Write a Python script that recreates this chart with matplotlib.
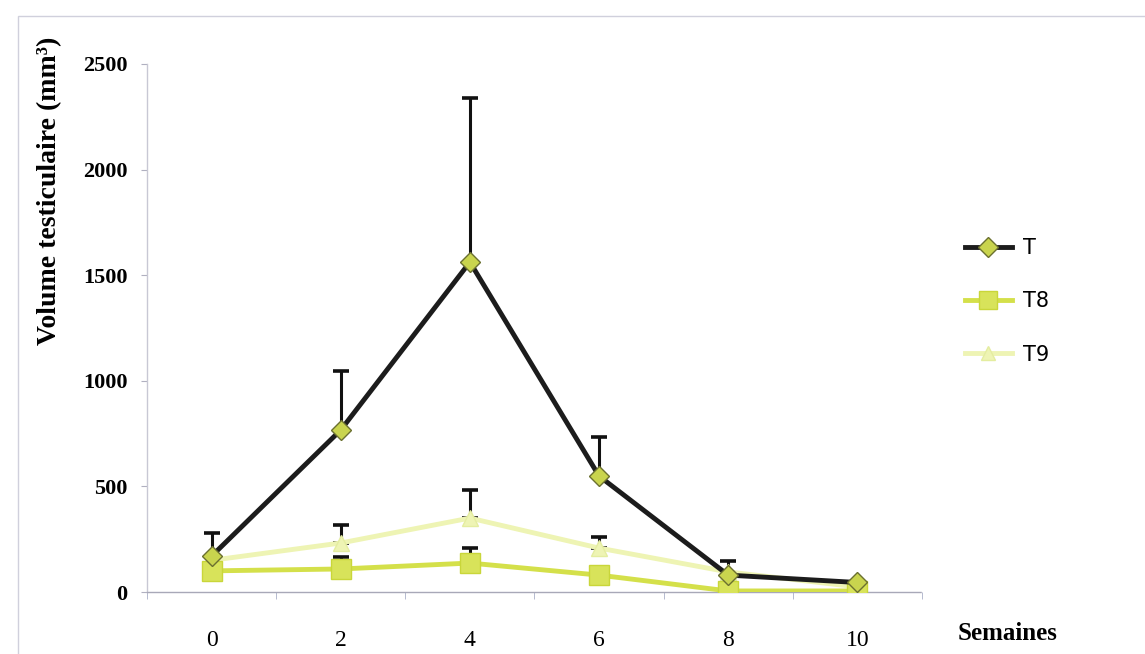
import numpy as np
import matplotlib.pyplot as plt
from matplotlib.lines import Line2D

# Semaines (catégories)
semaines = ["0", "2", "4", "6", "8", "10"]

# Volume testiculaire moyen (mm3) et écart (barre vers le haut)
vol_T = [170, 767, 1562, 549, 80, 45]
err_T = [110, 280, 777, 185, 65, 0]

vol_T8 = [100, 109, 137, 80, 5, 5]
err_T8 = [0, 57, 71, 0, 0, 0]

vol_T9 = [150, 232, 350, 208, 95, 24]
err_T9 = [0, 85, 133, 52, 0, 0]

SERIF = "Liberation Serif"

fig = plt.figure(figsize=(11.45, 6.54), dpi=100)
ax = fig.add_axes([0.1284, 0.0948, 0.6768, 0.8074])

x = np.arange(len(semaines))

# barres d'erreur (seulement vers le haut)
for vals, errs in [(vol_T9, err_T9), (vol_T8, err_T8), (vol_T, err_T)]:
    v = np.array(vals)
    e = np.array(errs)
    m = e > 0
    ax.errorbar(x[m], v[m], yerr=[np.zeros(m.sum()), e[m]], fmt="none",
                ecolor="#111111", elinewidth=2.2, capsize=6, capthick=2.6,
                zorder=2)

ax.plot(x, vol_T9, color="#eef4b4", lw=3.5, marker="^", ms=11,
        mfc="#eef4b4", mec="#e4eda0", zorder=3)
ax.plot(x, vol_T8, color="#d4e04a", lw=3.5, marker="s", ms=14,
        mfc="#d8e35a", mec="#c9d63a", zorder=4)
ax.plot(x, vol_T, color="#1c1c1c", lw=3.5, marker="D", ms=10,
        mfc="#c9d44e", mec="#6b7030", mew=1.0, zorder=5)

ax.set_xlim(-0.5, 5.5)
ax.set_ylim(0, 2500)
ax.set_yticks([0, 500, 1000, 1500, 2000, 2500])
ax.set_xticks(x)
ax.set_xticklabels(semaines, family=SERIF, fontsize=17)
ax.set_xticks(np.arange(-0.5, 6.0, 1.0), minor=True)
ax.tick_params(axis="x", which="major", length=0, pad=27)
ax.tick_params(axis="x", which="minor", length=5, color="#aab0c8",
               direction="out")
ax.tick_params(axis="y", length=4, color="#b0b0c0", direction="out",
               labelsize=16, pad=10)
for lab in ax.get_yticklabels():
    lab.set_family(SERIF)
    lab.set_fontweight("bold")

for s in ["top", "right"]:
    ax.spines[s].set_visible(False)
ax.spines["left"].set_color("#c8c8d4")
ax.spines["left"].set_linewidth(1.0)
ax.spines["bottom"].set_color("#a8a8b8")
ax.spines["bottom"].set_linestyle((0, (2, 1)))
ax.spines["bottom"].set_linewidth(1.0)

ax.set_ylabel("Volume testiculaire (mm³)", family=SERIF,
              fontweight="bold", fontsize=20)
ax.yaxis.set_label_coords(-0.11, 0.76)

fig.text(0.836, 0.022, "Semaines", family=SERIF,
         fontweight="bold", fontsize=18)

handles = [
    Line2D([], [], color="#1c1c1c", lw=3.5, marker="D", ms=10,
           mfc="#c9d44e", mec="#6b7030"),
    Line2D([], [], color="#d4e04a", lw=3.5, marker="s", ms=13,
           mfc="#d8e35a", mec="#c9d63a"),
    Line2D([], [], color="#eef4b4", lw=3.5, marker="^", ms=10,
           mfc="#eef4b4", mec="#e4eda0"),
]
leg = fig.legend(handles, ["T", "T8", "T9"], loc="upper left",
                 bbox_to_anchor=(0.826, 0.665), frameon=False,
                 fontsize=15, labelspacing=1.6, handlelength=2.3,
                 handletextpad=0.5)

# cadre léger du graphique
fig.patches.append(plt.Rectangle((0.016, -0.01), 0.99, 0.985,
                                 transform=fig.transFigure, fill=False,
                                 ec="#d0d0dc", lw=1.0))

fig.savefig("out.png", dpi=100)
